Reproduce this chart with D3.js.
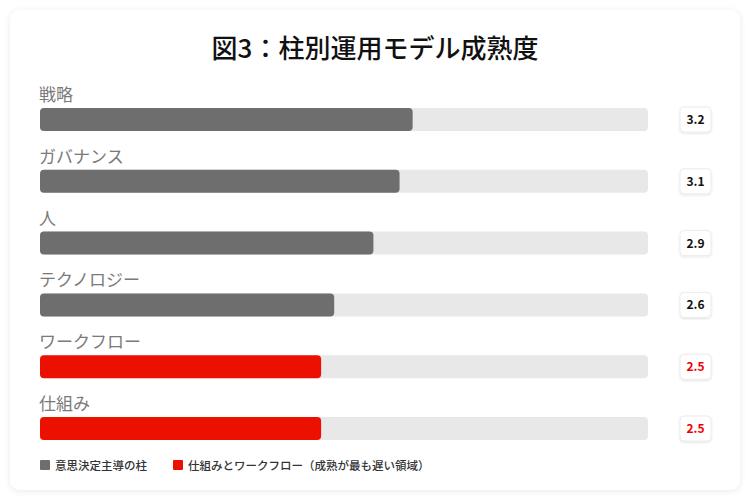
<!DOCTYPE html>
<html>
<head>
<meta charset="utf-8">
<script src="https://cdn.jsdelivr.net/npm/d3@7"></script>
<style>
  html, body { margin: 0; padding: 0; background: #ffffff; }
  svg { display: block; font-family: "Noto Sans CJK JP", "Noto Sans", sans-serif; }
</style>
</head>
<body>
<div id="chart"></div>
<script>
const TITLE = '図3：柱別運用モデル成熟度'
const pillars = ['戦略', 'ガバナンス', '人', 'テクノロジー', 'ワークフロー', '仕組み']
const scores = [3.2, 3.1, 2.9, 2.6, 2.5, 2.5]
const groups = ['lead', 'lead', 'lead', 'lead', 'slow', 'slow']
const legendLabels = ['意思決定主導の柱', '仕組みとワークフロー（成熟が最も遅い領域）']
const SCORE_DOMAIN = [0.35, 5]

const WIDTH = 750
const HEIGHT = 500
const COLORS = {
    lead: '#6e6e6e',
    slow: '#ec1000',
    track: '#e8e8e8',
    label: '#7a7a7a',
    title: '#111111',
}

const svg = d3.select('#chart')
    .append('svg')
    .attr('width', WIDTH)
    .attr('height', HEIGHT)

const defs = svg.append('defs')
defs.append('filter')
    .attr('id', 'cardShadow')
    .attr('x', '-5%').attr('y', '-5%')
    .attr('width', '110%').attr('height', '110%')
    .append('feDropShadow')
    .attr('dx', 0).attr('dy', 1)
    .attr('stdDeviation', 3)
    .attr('flood-color', '#000')
    .attr('flood-opacity', 0.09)
defs.append('filter')
    .attr('id', 'boxShadow')
    .attr('x', '-30%').attr('y', '-30%')
    .attr('width', '160%').attr('height', '160%')
    .append('feDropShadow')
    .attr('dx', 0).attr('dy', 1)
    .attr('stdDeviation', 1.2)
    .attr('flood-color', '#000')
    .attr('flood-opacity', 0.12)

// card
svg.append('rect')
    .attr('x', 10).attr('y', 10)
    .attr('width', 730).attr('height', 480)
    .attr('rx', 10)
    .attr('fill', '#ffffff')
    .attr('filter', 'url(#cardShadow)')

svg.append('text')
    .attr('x', WIDTH / 2)
    .attr('y', 58)
    .attr('text-anchor', 'middle')
    .attr('font-size', 26)
    .attr('font-weight', 500)
    .attr('fill', COLORS.title)
    .text(TITLE)

/**
 * Bars
 */
const x = d3.scaleLinear()
    .domain(SCORE_DOMAIN)
    .range([40, 648])

const y = d3.scaleBand()
    .domain(pillars)
    .range([108, 440])
    .paddingInner(0.628)
    .paddingOuter(0)

const barH = 23
const color = d3.scaleOrdinal().domain(['lead', 'slow']).range([COLORS.lead, COLORS.slow])

const rows = svg.append('g')
    .selectAll('g')
    .data(pillars.map((p, i) => ({ name: p, score: scores[i], group: groups[i] })))
    .join('g')
    .attr('transform', d => `translate(0, ${y(d.name)})`)

rows.append('text')
    .attr('x', 39)
    .attr('y', -7)
    .attr('font-size', 17)
    .attr('font-weight', 400)
    .attr('fill', COLORS.label)
    .text(d => d.name)

rows.append('rect')
    .attr('x', x.range()[0])
    .attr('width', x.range()[1] - x.range()[0])
    .attr('height', barH)
    .attr('rx', 4)
    .attr('fill', COLORS.track)

rows.append('rect')
    .attr('x', x.range()[0])
    .attr('width', d => x(d.score) - x.range()[0])
    .attr('height', barH)
    .attr('rx', 4)
    .attr('fill', d => color(d.group))

// value boxes
rows.append('rect')
    .attr('x', 680)
    .attr('y', -1)
    .attr('width', 31)
    .attr('height', 25)
    .attr('rx', 4)
    .attr('fill', '#ffffff')
    .attr('stroke', '#ececec')
    .attr('filter', 'url(#boxShadow)')

rows.append('text')
    .attr('x', 695.5)
    .attr('y', 16)
    .attr('text-anchor', 'middle')
    .attr('font-size', 12)
    .attr('font-weight', 700)
    .attr('fill', d => d.group === 'slow' ? '#ee0000' : '#111111')
    .text(d => d3.format('.1f')(d.score))

/**
 * Legend
 */
const legend = svg.append('g')
    .selectAll('g')
    .data(legendLabels.map((l, i) => ({ label: l, group: color.domain()[i] })))
    .join('g')
    .attr('transform', (d, i) => `translate(${i === 0 ? 40 : 173}, 460)`)

legend.append('rect')
    .attr('width', 10)
    .attr('height', 10)
    .attr('rx', 1)
    .attr('fill', d => color(d.group))

legend.append('text')
    .attr('x', 15)
    .attr('y', 9.5)
    .attr('font-size', 11.5)
    .attr('font-weight', 500)
    .attr('fill', '#333333')
    .text(d => d.label)
</script>
</body>
</html>
